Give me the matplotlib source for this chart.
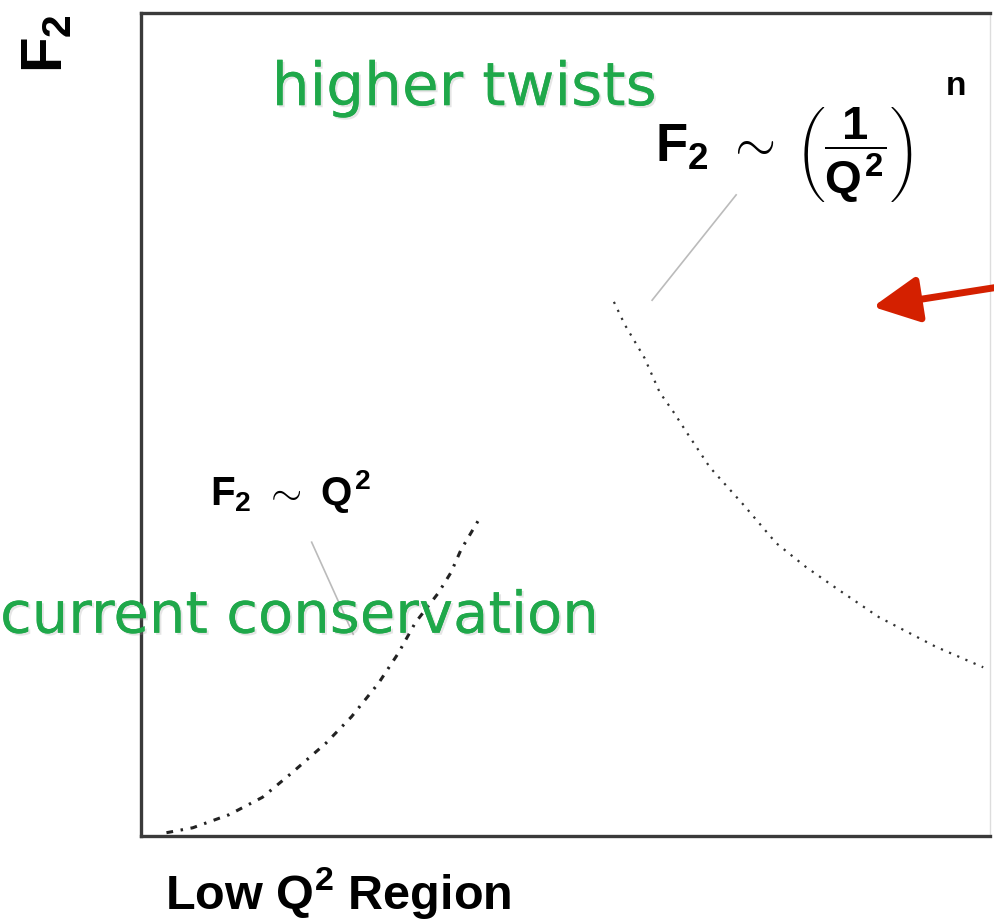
import matplotlib
matplotlib.use('Agg')
from matplotlib import pyplot as plt
import matplotlib.patheffects as pe

plt.rcParams['mathtext.fontset'] = 'custom'
plt.rcParams['mathtext.rm'] = 'Liberation Sans:bold'
plt.rcParams['mathtext.bf'] = 'Liberation Sans:bold'
plt.rcParams['mathtext.it'] = 'Liberation Sans:bold'

GREEN = '#1fa84a'
RED = '#d42000'
INK = '#222222'

# current-conservation branch, F2 ~ Q^2 (arbitrary units)
low_q2 = [0.30, 0.61, 1.04, 1.43, 1.78, 2.18, 2.48, 2.80, 3.03, 3.23, 3.50, 3.65, 3.77, 4.00]
low_f2 = [0.04, 0.10, 0.26, 0.47, 0.77, 1.13, 1.45, 1.86, 2.22, 2.59, 2.95, 3.20, 3.48, 3.88]

# higher-twist branch, F2 ~ (1/Q^2)^n
high_q2 = [5.57, 5.70, 5.93, 6.11, 6.28, 6.43, 6.70, 7.10, 7.48, 7.83, 8.19, 8.69, 9.36, 9.92]
high_f2 = [6.49, 6.21, 5.81, 5.39, 5.14, 4.90, 4.48, 4.02, 3.56, 3.27, 3.01, 2.66, 2.30, 2.05]

# leader lines from the formulas to the curves
lead_hi_x, lead_hi_y = [6.02, 7.01], [6.51, 7.79]
lead_lo_x, lead_lo_y = [2.01, 2.50], [3.57, 2.45]

W, H = 995, 922
fig = plt.figure(figsize=(W / 100, H / 100), dpi=100)
ax = fig.add_axes([141 / W, 1 - 836 / H, (990 - 141) / W, (836 - 13) / H])
ax.set_xlim(0, 10)
ax.set_ylim(0, 10)
ax.set_xticks([])
ax.set_yticks([])
for s in ['left', 'bottom', 'top']:
    ax.spines[s].set_linewidth(2.4)
    ax.spines[s].set_color('#3a3a3a')
ax.spines['right'].set_color('#dddddd')
ax.spines['right'].set_linewidth(1.0)

ax.plot(low_q2, low_f2, color=INK, lw=2.2, linestyle=(0, (2.2, 2.5, 0.8, 2.5)))
ax.plot(high_q2, high_f2, color='#333333', lw=1.6, linestyle=(0, (1, 3)))
ax.plot(lead_hi_x, lead_hi_y, color='#bbbbbb', lw=1.2)
ax.plot(lead_lo_x, lead_lo_y, color='#bbbbbb', lw=1.2)

ax.annotate('', xy=(8.62, 6.43), xytext=(10.1, 6.67), annotation_clip=False,
            arrowprops=dict(arrowstyle='-|>,head_length=2.0,head_width=1.0',
                            mutation_scale=14, color=RED, lw=5,
                            shrinkA=0, shrinkB=0))

ax.text(0.81, 4.02, r'$F_2\ \sim\ Q^2$', fontsize=29, color='black',
        ha='left', va='baseline')
ax.text(6.05, 8.19, r'$F_2\ \sim$', fontsize=38, color='black',
        ha='left', va='baseline')
ax.text(7.70, 8.27, r'$\left(\dfrac{1}{Q^2}\right)$', fontsize=34,
        color='black', ha='left', va='center')
ax.text(9.47, 9.0, r'$n$', fontsize=24, color='black', ha='left', va='baseline')

shadow = [pe.withSimplePatchShadow(offset=(1.5, -1.5), shadow_rgbFace='#999999', alpha=0.25),
          pe.Normal()]
ax.text(1.54, 8.88, 'higher twists', fontsize=43, color=GREEN,
        ha='left', va='baseline', path_effects=shadow)
ax.text(-1.66, 2.47, 'current conservation', fontsize=41.5, color=GREEN,
        ha='left', va='baseline', path_effects=shadow)

fig.text(46 / W, 1 - 44 / H, r'$F_2$', fontsize=42, rotation=90,
         ha='center', va='center')
fig.text(165 / W, 1 - 909 / H, r'Low Q$^2$ Region', fontsize=35,
         family='Liberation Sans', fontweight='bold', ha='left', va='baseline')

fig.savefig('out.png', dpi=100)
